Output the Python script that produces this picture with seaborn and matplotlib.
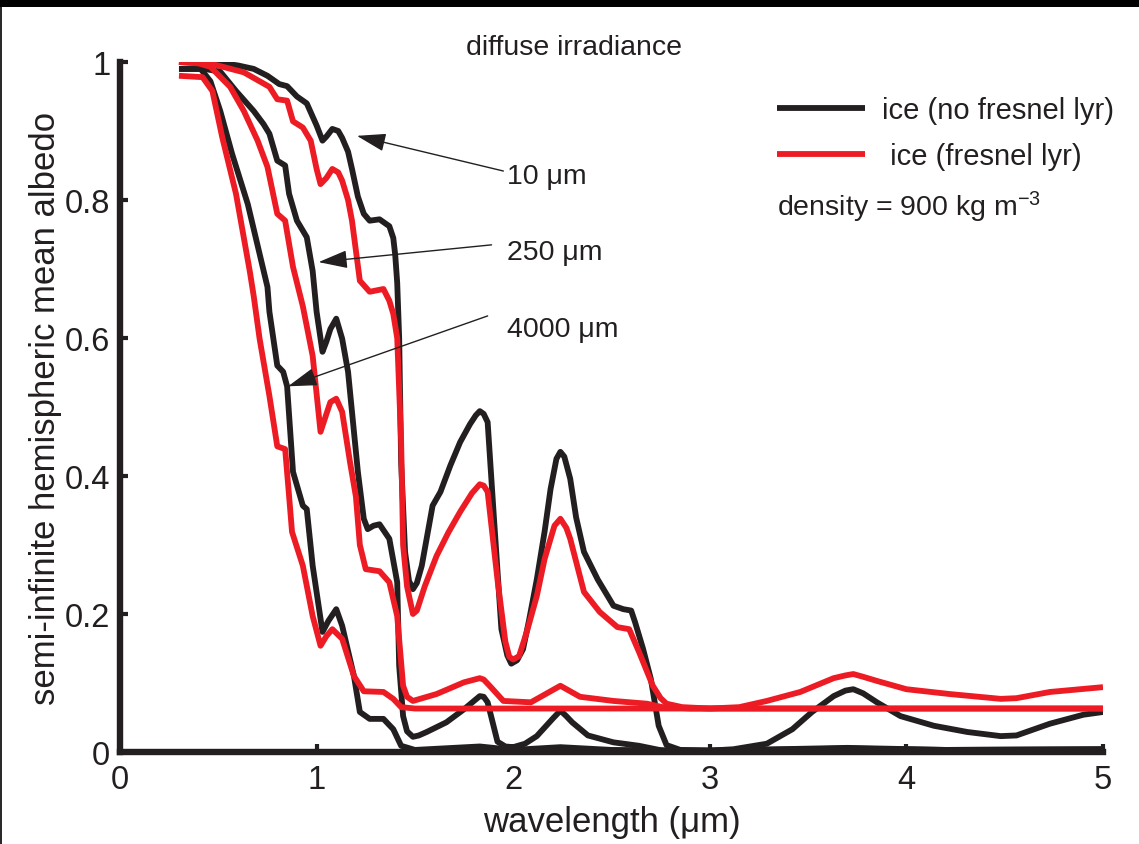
"""
Diffuse-irradiance albedo of semi-infinite ice, with and without a fresnel layer.
"""

import matplotlib
matplotlib.use("Agg")
import matplotlib.pyplot as plt
from matplotlib.patches import Rectangle
from matplotlib.lines import Line2D
import seaborn as sns

sns.set_style("ticks")
plt.rcParams["font.family"] = ["Liberation Sans", "DejaVu Sans"]
plt.rcParams["mathtext.fontset"] = "custom"
plt.rcParams["mathtext.rm"] = "Liberation Sans"
plt.rcParams["mathtext.it"] = "Liberation Sans"

INK = "#231f20"
RED = "#ed1c24"

# ---- data (wavelength in um, albedo) ----
wl_b10 = [0.30, 0.47, 0.60, 0.68, 0.75, 0.81, 0.85, 0.90, 0.95, 1.00, 1.03, 1.05,
          1.08, 1.11, 1.13, 1.16, 1.18, 1.21, 1.24, 1.27, 1.32, 1.37, 1.39, 1.40,
          1.41, 1.42, 1.43, 1.45, 1.47, 1.49, 1.51, 1.535, 1.59, 1.63, 1.68, 1.73,
          1.78, 1.81, 1.83, 1.85, 1.87, 1.90, 1.94, 1.97, 1.99, 2.02, 2.05, 2.08,
          2.12, 2.16, 2.19, 2.22, 2.24, 2.26, 2.29, 2.32, 2.36, 2.43, 2.51, 2.56,
          2.60, 2.62, 2.66, 2.70, 2.74, 2.78, 2.85, 3.00, 3.12, 3.29, 3.42, 3.52,
          3.63, 3.69, 3.73, 3.78, 3.85, 3.97, 4.14, 4.31, 4.48, 4.56, 4.73, 4.90,
          5.00]
al_b10 = [1.0, 1.0, 0.995, 0.99, 0.98, 0.968, 0.965, 0.95, 0.94, 0.908, 0.886, 0.892,
          0.903, 0.90, 0.89, 0.87, 0.845, 0.805, 0.78, 0.77, 0.772, 0.762, 0.745,
          0.72, 0.68, 0.60, 0.42, 0.29, 0.248, 0.236, 0.245, 0.27, 0.357, 0.377,
          0.415, 0.449, 0.475, 0.488, 0.494, 0.49, 0.478, 0.348, 0.178, 0.14, 0.128,
          0.133, 0.149, 0.19, 0.25, 0.32, 0.381, 0.425, 0.435, 0.428, 0.396, 0.34,
          0.29, 0.25, 0.212, 0.207, 0.205, 0.188, 0.15, 0.106, 0.038, 0.010, 0.003,
          0.002, 0.004, 0.012, 0.033, 0.058, 0.081, 0.089, 0.091, 0.085, 0.072,
          0.052, 0.038, 0.029, 0.023, 0.024, 0.041, 0.054, 0.058]

wl_r10 = [0.30, 0.47, 0.63, 0.76, 0.80, 0.85, 0.88, 0.93, 0.97, 1.00, 1.02, 1.05,
          1.08, 1.11, 1.13, 1.16, 1.18, 1.22, 1.27, 1.34, 1.37, 1.39, 1.41, 1.43,
          1.44, 1.46, 1.49, 1.51, 1.55, 1.61, 1.67, 1.73, 1.79, 1.83, 1.85, 1.87,
          1.92, 1.96, 1.98, 2.00, 2.03, 2.07, 2.12, 2.16, 2.19, 2.21, 2.24, 2.27,
          2.29, 2.33, 2.36, 2.44, 2.53, 2.59, 2.64, 2.71, 2.75, 2.78, 2.86, 3.00,
          3.15, 3.29, 3.46, 3.63, 3.69, 3.73, 3.78, 3.85, 4.00, 4.22, 4.48, 4.56,
          4.73, 5.00]
al_r10 = [1.0, 0.997, 0.985, 0.964, 0.946, 0.944, 0.914, 0.905, 0.886, 0.845, 0.823,
          0.832, 0.845, 0.84, 0.828, 0.80, 0.77, 0.683, 0.667, 0.671, 0.654, 0.635,
          0.60, 0.45, 0.30, 0.24, 0.20, 0.205, 0.24, 0.284, 0.318, 0.348, 0.375,
          0.388, 0.386, 0.377, 0.25, 0.16, 0.138, 0.134, 0.139, 0.175, 0.226, 0.28,
          0.309, 0.328, 0.338, 0.325, 0.309, 0.265, 0.232, 0.203, 0.181, 0.178,
          0.145, 0.096, 0.078, 0.070, 0.065, 0.063, 0.065, 0.074, 0.087, 0.107,
          0.111, 0.113, 0.109, 0.103, 0.091, 0.084, 0.077, 0.078, 0.087, 0.094]

wl_b250 = [0.30, 0.43, 0.51, 0.59, 0.68, 0.73, 0.76, 0.80, 0.84, 0.86, 0.90, 0.95,
           0.98, 1.00, 1.03, 1.05, 1.07, 1.10, 1.13, 1.16, 1.21, 1.24, 1.26, 1.29,
           1.32, 1.37, 1.41, 1.42, 1.44, 1.46, 1.49, 1.52, 1.56, 1.66, 1.75, 1.83,
           1.85, 1.87, 1.92, 1.96, 2.00, 2.06, 2.12, 2.20, 2.24, 2.27, 2.30, 2.38,
           2.51, 2.64, 2.76, 3.00, 3.70, 4.20, 5.00]
al_b250 = [0.99, 0.99, 0.986, 0.958, 0.929, 0.91, 0.896, 0.857, 0.85, 0.809, 0.77,
           0.746, 0.697, 0.638, 0.58, 0.595, 0.613, 0.628, 0.599, 0.551, 0.406, 0.338,
           0.323, 0.328, 0.33, 0.309, 0.246, 0.125, 0.052, 0.03, 0.022, 0.024, 0.029,
           0.043, 0.062, 0.081, 0.08, 0.072, 0.015, 0.008, 0.007, 0.012, 0.023,
           0.048, 0.06, 0.052, 0.043, 0.024, 0.014, 0.009, 0.002, 0.002, 0.005, 0.003,
           0.004]

wl_r250 = [0.30, 0.40, 0.46, 0.56, 0.63, 0.70, 0.75, 0.80, 0.84, 0.88, 0.93, 0.98,
           1.02, 1.05, 1.07, 1.10, 1.13, 1.17, 1.20, 1.22, 1.25, 1.32, 1.37, 1.41,
           1.44, 1.46, 1.49, 1.61, 1.75, 1.83, 1.85, 1.88, 1.95, 2.09, 2.19, 2.24,
           2.29, 2.34, 2.51, 2.68, 2.76, 2.90, 5.00]
al_r250 = [1.0, 0.998, 0.993, 0.964, 0.929, 0.886, 0.848, 0.78, 0.77, 0.703, 0.646,
           0.574, 0.464, 0.49, 0.507, 0.512, 0.493, 0.42, 0.37, 0.30, 0.265, 0.262,
           0.246, 0.197, 0.096, 0.08, 0.074, 0.084, 0.101, 0.107, 0.105, 0.096, 0.074,
           0.072, 0.088, 0.096, 0.088, 0.08, 0.074, 0.07, 0.065, 0.063, 0.063]

wl_b4000 = [0.30, 0.41, 0.46, 0.51, 0.57, 0.65, 0.71, 0.75, 0.76, 0.80, 0.83, 0.85,
            0.88, 0.93, 0.95, 0.98, 1.03, 1.06, 1.10, 1.13, 1.19, 1.22, 1.27, 1.34,
            1.39, 1.43, 1.50, 1.83, 2.00, 2.24, 2.50, 3.00, 3.70, 4.20, 5.00]
al_b4000 = [0.99, 0.99, 0.972, 0.929, 0.867, 0.794, 0.722, 0.674, 0.638, 0.56, 0.551,
            0.53, 0.406, 0.357, 0.352, 0.27, 0.174, 0.19, 0.207, 0.183, 0.11, 0.058,
            0.048, 0.048, 0.033, 0.009, 0.003, 0.008, 0.003, 0.007, 0.003, 0.002,
            0.006, 0.003, 0.004]

wl_r4000 = [0.30, 0.42, 0.47, 0.52, 0.59, 0.66, 0.68, 0.71, 0.76, 0.80, 0.84, 0.86,
            0.875, 0.93, 0.98, 1.02, 1.05, 1.08, 1.13, 1.19, 1.24, 1.34, 1.39, 1.43,
            1.50, 5.00]
al_r4000 = [0.98, 0.978, 0.958, 0.891, 0.809, 0.697, 0.661, 0.599, 0.516, 0.443,
            0.439, 0.371, 0.319, 0.27, 0.197, 0.154, 0.168, 0.178, 0.164, 0.110,
            0.088, 0.087, 0.077, 0.065, 0.063, 0.063]

xticks = [0, 1, 2, 3, 4, 5]
yticks = [0, 0.2, 0.4, 0.6, 0.8, 1.0]
ytick_labels = ["0", "0.2", "0.4", "0.6", "0.8", "1"]

# grain-size labels with arrow tail / head positions (data coords)
grain_labels = ["10 \u03bcm", "250 \u03bcm", "4000 \u03bcm"]
label_xy = [(1.97, 0.835), (1.97, 0.725), (1.97, 0.613)]
tail_xy = [(1.95, 0.842), (1.89, 0.735), (1.87, 0.632)]
head_xy = [(1.205, 0.893), (1.01, 0.71), (0.855, 0.53)]

fig = plt.figure(figsize=(11.39, 8.45), dpi=100)
ax = fig.add_axes([120 / 1139, 92 / 845, 983 / 1139, 690 / 845])

LW = 4.2
black_curves = [(wl_b10, al_b10), (wl_b250, al_b250), (wl_b4000, al_b4000)]
red_curves = [(wl_r10, al_r10), (wl_r250, al_r250), (wl_r4000, al_r4000)]
for i, (wl, al) in enumerate(black_curves):
    sns.lineplot(x=wl, y=al, ax=ax, color=INK, lw=LW, sort=False, estimator=None,
                 label="ice (no fresnel lyr)" if i == 0 else "_nolegend_",
                 solid_joinstyle="round", solid_capstyle="butt")
for i, (wl, al) in enumerate(red_curves):
    sns.lineplot(x=wl, y=al, ax=ax, color=RED, lw=LW, sort=False, estimator=None,
                 label=" ice (fresnel lyr)" if i == 0 else "_nolegend_",
                 solid_joinstyle="round", solid_capstyle="butt")

ax.set_xlim(0, 5)
ax.set_ylim(0, 1)
ax.set_xticks(xticks)
ax.set_yticks(yticks)
ax.set_yticklabels(ytick_labels)
sns.despine(ax=ax)
for side in ["left", "bottom"]:
    ax.spines[side].set_linewidth(4.6)
    ax.spines[side].set_color(INK)
ax.tick_params(direction="in", length=6, width=3, colors=INK, labelsize=23.5)
ax.tick_params(axis="x", pad=9)
ax.tick_params(axis="y", pad=7)
ax.set_xlabel("wavelength (\u03bcm)", fontsize=25, color=INK, labelpad=7)
ax.set_ylabel("semi-infinite hemispheric mean albedo", fontsize=25, color=INK,
              labelpad=2)

ax.text(2.31, 1.022, "diffuse irradiance", ha="center", va="center",
        fontsize=20.5, color=INK)

for txt, (tx, ty), (ax0, ay0), (hx, hy) in zip(grain_labels, label_xy, tail_xy, head_xy):
    ax.annotate("", xy=(hx, hy), xytext=(ax0, ay0),
                arrowprops=dict(arrowstyle="-|>,head_length=0.9,head_width=0.28",
                                lw=1.0, color=INK, shrinkA=0, shrinkB=0,
                                mutation_scale=20))
    ax.text(tx, ty, txt, ha="left", va="center", fontsize=20.5, color=INK)

leg = ax.legend(loc="upper left", bbox_to_anchor=(777 / 1139, 1 - 97 / 845),
                bbox_transform=fig.transFigure, frameon=False, fontsize=21,
                handlelength=3.0, handletextpad=0.6, borderpad=0, borderaxespad=0,
                labelspacing=0.62)
for t in leg.get_texts():
    t.set_color(INK)
ax.text(777 / 1139, 1 - 207 / 845, "density = 900 kg m$^{-3}$", transform=fig.transFigure,
        ha="left", va="center", fontsize=20.5, color=INK)

# frame decoration of the source image
fig.add_artist(Rectangle((0, 1 - 8 / 845), 1, 8 / 845, transform=fig.transFigure,
                         color="black", lw=0))
fig.add_artist(Line2D([1 / 1139, 1 / 1139], [0, 1], transform=fig.transFigure,
                      color="black", lw=1.2))

fig.savefig("out.png", dpi=100, facecolor="white")
